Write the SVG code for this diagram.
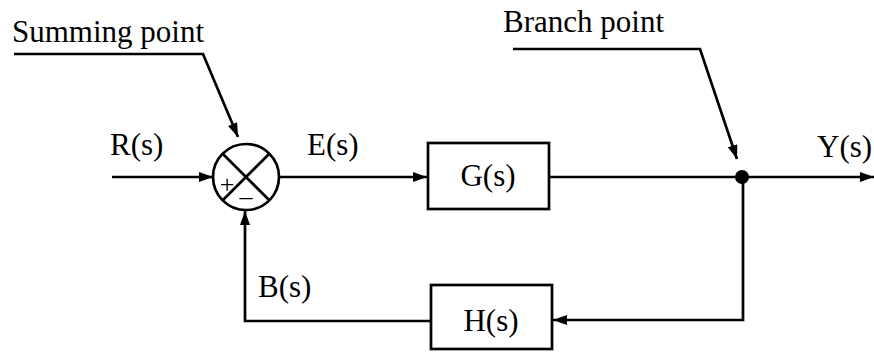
<svg xmlns="http://www.w3.org/2000/svg" width="874" height="352" viewBox="0 0 874 352">
<style>
.ln{fill:none;stroke:#000;stroke-width:2.7}
.bx{fill:#fff;stroke:#000;stroke-width:2.7}
.t{font-family:"Liberation Serif","Times New Roman",serif;font-size:31px;fill:#000}
.s{font-family:"Liberation Serif","Times New Roman",serif;font-size:26px;fill:#000}
</style>
<defs>
<marker id="ah" viewBox="0 0 14 10" refX="14" refY="5" markerWidth="14" markerHeight="10" markerUnits="userSpaceOnUse" orient="auto">
<path d="M0,0 L14,5 L0,10 Z" fill="#000"/>
</marker>
</defs>
<rect width="874" height="352" fill="#fff"/>
<g id="connectors">
<line class="ln" x1="112" y1="177" x2="213" y2="177" marker-end="url(#ah)"/>
<line class="ln" x1="279" y1="177" x2="427" y2="177" marker-end="url(#ah)"/>
<line class="ln" x1="549" y1="177" x2="742" y2="177"/>
<line class="ln" x1="742" y1="177" x2="874" y2="177" marker-end="url(#ah)"/>
<polyline class="ln" points="743,177 743,320 553,320" marker-end="url(#ah)"/>
<polyline class="ln" points="431,321 245,321 245,211" marker-end="url(#ah)"/>
<polyline class="ln" points="14,54 203,54 238,137" marker-end="url(#ah)"/>
<polyline class="ln" points="513,49 700,49 737,159" marker-end="url(#ah)"/>
</g>
<g id="sum">
<circle class="ln" cx="246" cy="177" r="33"/>
<line class="ln" x1="222.7" y1="153.7" x2="269.3" y2="200.3"/>
<line class="ln" x1="269.3" y1="153.7" x2="222.7" y2="200.3"/>
<text class="s" x="227" y="193" text-anchor="middle">+</text>
<text class="s" x="246" y="205" text-anchor="middle">–</text>
</g>
<g id="branch">
<circle cx="742" cy="177" r="7" fill="#000"/>
</g>
<g id="G">
<rect class="bx" x="428" y="143" width="121" height="66"/>
<text class="t" x="488" y="186" text-anchor="middle">G(s)</text>
</g>
<g id="H">
<rect class="bx" x="431" y="285" width="121" height="64"/>
<text class="t" x="491" y="331" text-anchor="middle">H(s)</text>
</g>
<g id="labels">
<text class="t" x="12" y="42">Summing point</text>
<text class="t" x="503" y="32">Branch point</text>
<text class="t" x="110" y="155">R(s)</text>
<text class="t" x="307" y="155">E(s)</text>
<text class="t" x="817" y="157">Y(s)</text>
<text class="t" x="258" y="297">B(s)</text>
</g>
</svg>
